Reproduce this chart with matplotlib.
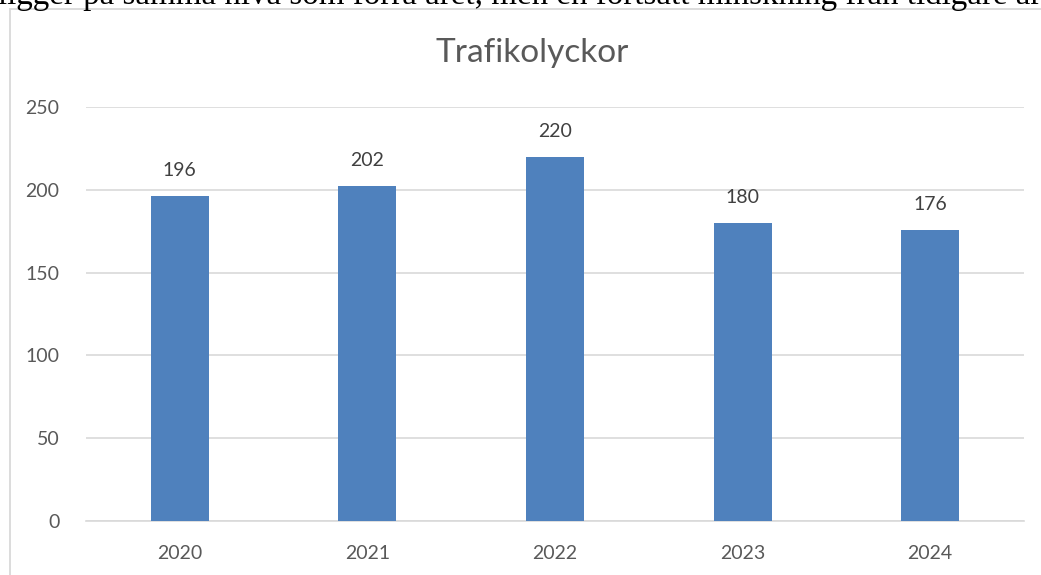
import matplotlib
matplotlib.use("Agg")
import matplotlib.pyplot as plt
from matplotlib.patches import Rectangle

years = ["2020", "2021", "2022", "2023", "2024"]
accidents = [196, 202, 220, 180, 176]
yticks = [0, 50, 100, 150, 200, 250]
title = "Trafikolyckor"
top_text = "ligger på samma nivå som förra året, men en fortsatt minskning från tidigare år."

W, H = 1041, 575
fig = plt.figure(figsize=(W / 100, H / 100), dpi=100)
fig.patch.set_facecolor("white")

# chart frame
fig.patches.append(Rectangle((9.5 / W, -0.1), 1.2, (H - 8.5) / H + 0.1, transform=fig.transFigure,
                             fill=False, edgecolor="#D9D9D9", linewidth=1.3))

fig.text(-2 / W, (H - 4) / H, top_text, family="Liberation Serif", fontsize=23.8,
         color="black", ha="left", va="baseline")

ax = fig.add_axes([86 / W, 54 / H, (1024 - 86) / W, (521 - 107) / H])
x = range(len(years))
bars = ax.bar(x, accidents, width=0.31, color="#4F81BD", zorder=3)
ax.set_xlim(-0.5, len(years) - 0.5)
ax.set_ylim(0, 250)
ax.set_yticks(yticks)
ax.set_xticks(list(x))
ax.set_xticklabels(years)
ax.grid(axis="y", color="#D9D9D9", linewidth=1.2, zorder=0)
for s in ["top", "right", "left"]:
    ax.spines[s].set_visible(False)
ax.spines["bottom"].set_color("#D9D9D9")
ax.spines["bottom"].set_linewidth(1.2)
ax.tick_params(axis="both", length=0, labelsize=14, labelcolor="#595959")
ax.tick_params(axis="y", pad=19)
ax.tick_params(axis="x", pad=17.5)
for lbl in ax.get_xticklabels() + ax.get_yticklabels():
    lbl.set_family("Lato")

for xi, v in zip(x, accidents):
    ax.annotate(str(v), (xi, v), xytext=(0, 14.4), textcoords="offset points",
                ha="center", va="baseline", fontsize=14, color="#404040", family="Lato")

fig.text(532 / W, (H - 62) / H, title, ha="center", va="baseline", fontsize=24,
         color="#595959", family="Lato")

fig.savefig("out.png", dpi=100)
